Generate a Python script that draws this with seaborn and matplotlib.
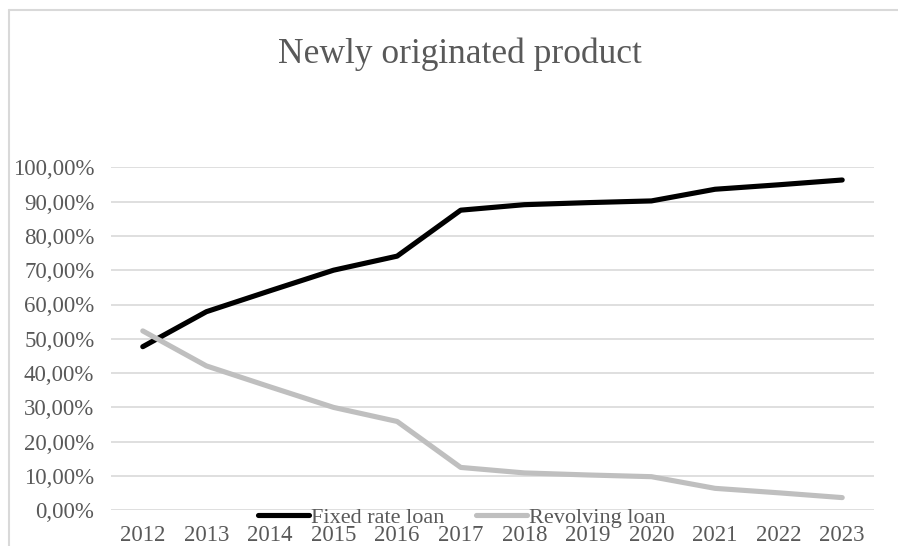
import matplotlib
matplotlib.use("Agg")
import matplotlib.pyplot as plt
import seaborn as sns
import pandas as pd
from matplotlib.ticker import FuncFormatter
from matplotlib.lines import Line2D

years = ["2012", "2013", "2014", "2015", "2016", "2017", "2018", "2019", "2020", "2021", "2022", "2023"]
fixed_rate = [0.477, 0.579, 0.640, 0.700, 0.741, 0.875, 0.891, 0.897, 0.902, 0.936, 0.949, 0.963]
revolving = [0.523, 0.421, 0.360, 0.300, 0.259, 0.125, 0.109, 0.103, 0.098, 0.064, 0.051, 0.037]
series_names = ["Fixed rate loan", "Revolving loan"]
title = "Newly originated product"

df = pd.DataFrame({
    "year": years * 2,
    "value": fixed_rate + revolving,
    "series": [series_names[0]] * len(years) + [series_names[1]] * len(years),
})

sns.set_theme(style="white")
plt.rcParams["font.family"] = ["Liberation Serif", "DejaVu Serif"]
txt = "#595959"
grid_c = "#D9D9D9"

W, H = 898, 546
fig = plt.figure(figsize=(W / 100, H / 100), dpi=100)
ax = fig.add_axes([111 / W, 1 - 510.3 / H, (874 - 111) / W, (510.3 - 167.3) / H])

palette = {series_names[0]: "#000000", series_names[1]: "#BFBFBF"}
sns.lineplot(data=df, x="year", y="value", hue="series", palette=palette,
             linewidth=3.7, ax=ax, legend=False, sort=False,
             solid_capstyle="round", solid_joinstyle="round")

ax.set_xlim(-0.5, len(years) - 0.5)
ax.set_ylim(0, 1.0)
ax.set_yticks([i / 10 for i in range(11)])
ax.yaxis.set_major_formatter(FuncFormatter(lambda v, p: f"{v*100:.2f}%".replace(".", ",")))
ax.grid(axis="y", color=grid_c, linewidth=1.2)
ax.set_axisbelow(True)
for s in ax.spines.values():
    s.set_visible(False)
ax.tick_params(axis="both", length=0, labelsize=16.5, colors=txt)
ax.tick_params(axis="y", pad=12)
ax.tick_params(axis="x", pad=10.5)
ax.set_xlabel("")
ax.set_ylabel("")

fig.text(460 / W, 1 - 54 / H, title, ha="center", va="center", fontsize=25.5, color=txt)

handles = [Line2D([], [], color=palette[n], linewidth=3.7, solid_capstyle="round") for n in series_names]
leg = fig.legend(handles, series_names, loc="center", bbox_to_anchor=(462 / W, 1 - 518 / H),
                 ncol=2, frameon=False, fontsize=16, handlelength=2.3, handletextpad=0.1,
                 columnspacing=1.4, borderpad=0, borderaxespad=0)
for t in leg.get_texts():
    t.set_color(txt)

# chart border (top and left visible)
fig.add_artist(Line2D([8.5 / W, 1.0], [1 - 10 / H, 1 - 10 / H], transform=fig.transFigure, color=grid_c, linewidth=1.5))
fig.add_artist(Line2D([8.5 / W, 8.5 / W], [1 - 10 / H, 0], transform=fig.transFigure, color=grid_c, linewidth=1.5))

fig.savefig("out.png", dpi=100)
